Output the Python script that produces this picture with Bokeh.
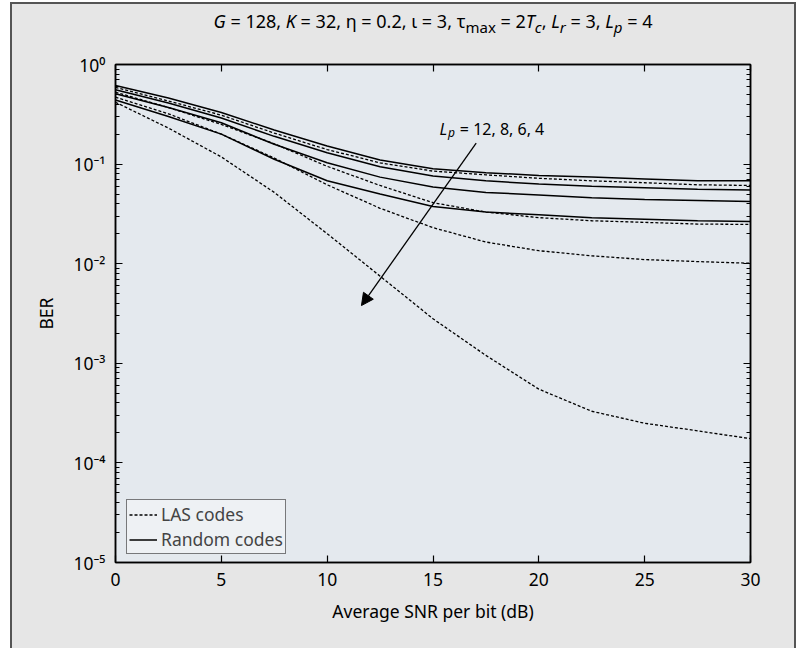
from bokeh.plotting import figure
from bokeh.models import (LogAxis, LinearAxis, FixedTicker, Legend, LegendItem,
                          Label, Arrow, NormalHead, Range1d, Column, Div,
                          CustomJSTickFormatter)
from bokeh.embed import file_html
from bokeh.resources import INLINE

# ---------------- data ----------------
snr_db = [0, 2.5, 5, 7.5, 10, 12.5, 15, 17.5, 20, 22.5, 25, 27.5, 30]

ber_random_lp12 = [0.615, 0.46, 0.33, 0.22, 0.152, 0.11, 0.09, 0.082, 0.077, 0.074, 0.071, 0.068, 0.068]
ber_random_lp8 = [0.557, 0.41, 0.29, 0.19, 0.13, 0.094, 0.076, 0.068, 0.063, 0.06, 0.058, 0.056, 0.055]
ber_random_lp6 = [0.508, 0.37, 0.26, 0.158, 0.103, 0.074, 0.059, 0.052, 0.049, 0.046, 0.044, 0.043, 0.042]
ber_random_lp4 = [0.44, 0.30, 0.20, 0.112, 0.068, 0.05, 0.0375, 0.033, 0.031, 0.029, 0.028, 0.027, 0.0265]

ber_las_lp12 = [0.59, 0.43, 0.31, 0.205, 0.14, 0.103, 0.085, 0.078, 0.072, 0.068, 0.065, 0.062, 0.061]
ber_las_lp8 = [0.527, 0.37, 0.25, 0.16, 0.095, 0.061, 0.041, 0.033, 0.029, 0.027, 0.026, 0.025, 0.0248]
ber_las_lp6 = [0.47, 0.32, 0.20, 0.115, 0.062, 0.036, 0.023, 0.0165, 0.0135, 0.012, 0.011, 0.0105, 0.0101]
ber_las_lp4 = [0.418, 0.23, 0.118, 0.052, 0.02, 0.0075, 0.0028, 0.0012, 0.00055, 0.00033, 0.00025, 0.00021, 0.000175]

x_ticks = [0, 5, 10, 15, 20, 25, 30]
y_ticks = [1e-5, 1e-4, 1e-3, 1e-2, 1e-1, 1]
legend_labels = ["LAS codes", "Random codes"]
x_label = "Average SNR per bit (dB)"
y_label = "BER"
title_html = ("<i>G</i> = 128, <i>K</i> = 32, \u03b7 = 0.2, \u03b9 = 3, "
              "\u03c4<sub>max</sub> = 2<i>T<sub>c</sub></i>, "
              "<i>L<sub>r</sub></i> = 3, <i>L<sub>p</sub></i> = 4")

# ---------------- style ----------------
FONT = "Noto Sans"
FS = "17.5px"
FRAME_BG = "#e4e9ee"
OUTER_BG = "#e6e6e6"
W = 782           # inner width (between the outer border lines)
TOP_H = 40        # title strip height
MAIN_H = 604

# ---------------- title strip ----------------
title_div = Div(text=('<div style="padding-top:6px; padding-left:60px; '
                      f'white-space:nowrap;">{title_html}</div>'),
                width=W, height=TOP_H, margin=0,
                styles={"font-family": FONT, "font-size": "18px", "color": "black",
                        "line-height": "22px", "text-align": "center",
                        "background-color": OUTER_BG})

# ---------------- main plot ----------------
p = figure(width=W, height=MAIN_H, x_range=Range1d(0, 30), y_range=Range1d(1e-5, 1),
           y_axis_type="log", output_backend="svg", toolbar_location=None,
           min_border_left=103, min_border_right=44, min_border_top=20, min_border_bottom=86,
           background_fill_color=FRAME_BG, border_fill_color=OUTER_BG,
           outline_line_color="black", outline_line_width=1.5, margin=0)
p.xgrid.visible = False
p.ygrid.visible = False

xt = FixedTicker(ticks=x_ticks, minor_ticks=[])
yt = FixedTicker(ticks=y_ticks,
                 minor_ticks=[k * 10.0 ** e for e in range(-5, 0) for k in range(2, 10)])

sup_fmt = CustomJSTickFormatter(code="""
const e = Math.round(Math.log10(tick));
const m = {"0":"\u2070","1":"\u00b9","2":"\u00b2","3":"\u00b3","4":"\u2074","5":"\u2075",
           "6":"\u2076","7":"\u2077","8":"\u2078","9":"\u2079","-":"\u207b"};
return "10" + String(e).split("").map(c => m[c]).join("");
""")
blank_fmt = CustomJSTickFormatter(code="return '';")


def style_axis(ax, minor, labels=True):
    ax.axis_line_color = "black"
    ax.axis_line_width = 1.5
    ax.major_tick_in = 7
    ax.major_tick_out = 0
    ax.major_tick_line_color = "black"
    ax.major_tick_line_width = 1.2
    ax.minor_tick_in = 4 if minor else 0
    ax.minor_tick_out = 0
    ax.minor_tick_line_color = "black"
    ax.minor_tick_line_width = 1.0
    ax.major_label_text_font = FONT
    ax.major_label_text_font_size = FS if labels else "1px"
    ax.major_label_text_color = "black"
    if not labels:
        ax.major_label_standoff = 0
    ax.axis_label_text_font = FONT
    ax.axis_label_text_font_size = FS
    ax.axis_label_text_font_style = "normal"
    ax.axis_label_text_color = "black"


xa = p.xaxis[0]
xa.ticker = xt
style_axis(xa, False)
xa.major_label_standoff = 10
xa.axis_label = x_label
xa.axis_label_standoff = 10

ya = p.yaxis[0]
ya.ticker = yt
ya.formatter = sup_fmt
style_axis(ya, True)
ya.major_label_standoff = 10
ya.axis_label = y_label
ya.axis_label_standoff = 12

top_ax = LinearAxis(ticker=xt, formatter=blank_fmt)
style_axis(top_ax, False, labels=False)
p.add_layout(top_ax, "above")
right_ax = LogAxis(ticker=yt, formatter=blank_fmt)
style_axis(right_ax, True, labels=False)
p.add_layout(right_ax, "right")

# ---------------- curves ----------------
DOT = "3 2"
solid_series = [ber_random_lp12, ber_random_lp8, ber_random_lp6, ber_random_lp4]
dotted_series = [ber_las_lp12, ber_las_lp8, ber_las_lp6, ber_las_lp4]
r_dot = [p.line(snr_db, s, line_color="black", line_width=1.3, line_dash=DOT) for s in dotted_series]
r_sol = [p.line(snr_db, s, line_color="black", line_width=1.5) for s in solid_series]

legend = Legend(items=[LegendItem(label=legend_labels[0], renderers=[r_dot[0]]),
                       LegendItem(label=legend_labels[1], renderers=[r_sol[0]])],
                location=(11, 8), orientation="vertical",
                border_line_color="black", border_line_width=1,
                background_fill_color="#eef1f4", background_fill_alpha=1,
                label_text_font=FONT, label_text_font_size=FS,
                glyph_width=28, glyph_height=17, label_height=17,
                label_standoff=4, padding=2, spacing=1, margin=0)
p.add_layout(legend)

# annotation arrow (Lp decreasing)
ARROW_FROM = (17.04, 0.162)
ARROW_TO = (11.62, 0.0038)
p.add_layout(Arrow(end=NormalHead(size=12, fill_color="black", line_color="black"),
                   x_start=ARROW_FROM[0], y_start=ARROW_FROM[1],
                   x_end=ARROW_TO[0], y_end=ARROW_TO[1],
                   line_color="black", line_width=1.3))

# ---------------- Lp label (italic L with subscript p) ----------------
EM = {' ': .26, ',': .26, '=': .6, 'L': .53, 'p': .64}
for d in "0123456789":
    EM[d] = .6


def wid(t, size):
    return sum(EM.get(c, .58) for c in t) * size


def rich(fig, segs, x0, y, main, sub, sub_dy):
    x = x0
    for t, it, s in segs:
        size = sub if s else main
        lead = len(t) - len(t.lstrip(' '))
        st = t.strip(' ')
        if st:
            fig.add_layout(Label(x=x + lead * EM[' '] * size, y=y + (sub_dy if s else 0),
                                 x_units="canvas", y_units="canvas", text=st,
                                 text_font=FONT, text_font_size=f"{size}px",
                                 text_font_style="italic" if it else "normal",
                                 text_baseline="alphabetic", text_align="left",
                                 text_color="black"))
        x += wid(t, size)


lp_segs = [("L", True, False), ("p", True, True), (" = 12, 8, 6, 4", False, False)]
rich(p, lp_segs, 427, 84, 16, 12, 4)

layout = Column(children=[title_div, p], spacing=0, margin=0,
                styles={"margin": "2px 0 0 10px", "border": "2px solid #555555",
                        "border-bottom": "none", "background-color": OUTER_BG,
                        "box-sizing": "content-box"})

open("out.html", "w").write(file_html(layout, INLINE))
